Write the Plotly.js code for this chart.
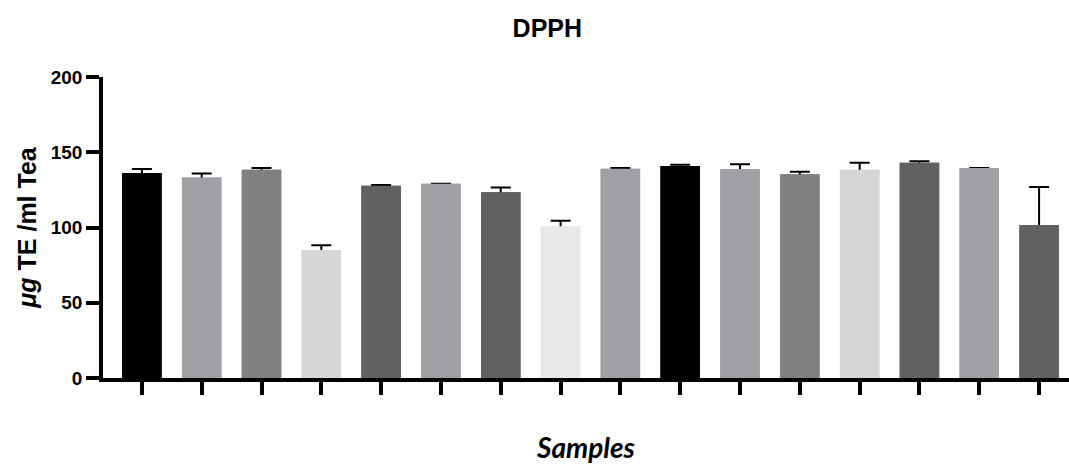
<!DOCTYPE html>
<html>
<head>
<meta charset="utf-8">
<script src="https://cdn.plot.ly/plotly-3.0.1.min.js"></script>
<style>html,body{margin:0;padding:0;background:#fff;}#chart{width:1069px;height:464px;}</style>
</head>
<body>
<div id="chart"></div>
<script>
const samples = ["S1","S2","S3","S4","S5","S6","S7","S8","S9","S10","S11","S12","S13","S14","S15","S16"];
const values = [136.2, 133.3, 138.4, 85.0, 127.8, 129.1, 123.4, 100.8, 139.1, 140.8, 138.8, 135.3, 138.4, 143.0, 139.5, 101.6];
const errors = [2.6, 2.5, 1.1, 3.2, 0.4, 0, 3.1, 3.7, 0.4, 0.9, 3.3, 1.7, 4.6, 1.1, 0, 25.3];
const barColors = ["#000000","#A1A0A4","#808080","#D6D6D6","#616161","#A1A0A4","#616161","#E8E8E8",
                   "#A1A0A4","#000000","#A1A0A4","#808080","#D6D6D6","#616161","#A1A0A4","#616161"];
const yTicks = [0, 50, 100, 150, 200];

// Back layer: bars carrying the error bars (lower whisker hidden by the front bars)
const errTrace = {
  type: "bar",
  x: samples,
  y: values,
  marker: {color: barColors, line: {width: 0}},
  error_y: {type: "data", array: errors, symmetric: false, arrayminus: values,
            visible: true, color: "#000000", thickness: 2, width: 10},
  hoverinfo: "skip"
};
// Front layer: the visible bars
const barTrace = {
  type: "bar",
  x: samples,
  y: values,
  marker: {color: barColors, line: {width: 0}},
  hoverinfo: "x+y"
};

const layout = {
  width: 1069, height: 464,
  margin: {l: 103, r: 0, t: 77, b: 86, pad: 0},
  paper_bgcolor: "#ffffff", plot_bgcolor: "#ffffff",
  showlegend: false,
  barmode: "overlay",
  bargap: 0.34,
  title: {text: "DPPH", font: {family: "Liberation Sans, Arial, sans-serif", size: 25, color: "#000", weight: "bold"},
          x: 0.512, xanchor: "center", xref: "container", y: 0.94, yanchor: "middle", yref: "container"},
  xaxis: {
    type: "category",
    range: [-0.65, 15.5],
    showline: true, linecolor: "#000", linewidth: 3.5,
    ticks: "outside", ticklen: 13, tickwidth: 3.5, tickcolor: "#000",
    showticklabels: false, showgrid: false, zeroline: false, fixedrange: true,
    title: {text: "Samples", font: {family: "Lato, Open Sans, sans-serif", size: 28, color: "#000", weight: "bold", style: "italic"}, standoff: 48}
  },
  yaxis: {
    range: [0, 200],
    tickvals: yTicks,
    showline: true, linecolor: "#000", linewidth: 3.5,
    ticks: "outside", ticklen: 13, tickwidth: 3.5, tickcolor: "#000",
    tickfont: {family: "Liberation Sans, Arial, sans-serif", size: 19, color: "#000", weight: "bold"},
    showgrid: false, zeroline: false, fixedrange: true,
    title: {text: "<i>μg</i> TE /ml Tea", font: {family: "Liberation Sans, Arial, sans-serif", size: 25, color: "#000", weight: "bold"}, standoff: 8}
  }
};

Plotly.newPlot("chart", [errTrace, barTrace], layout, {displayModeBar: false});
</script>
</body>
</html>
